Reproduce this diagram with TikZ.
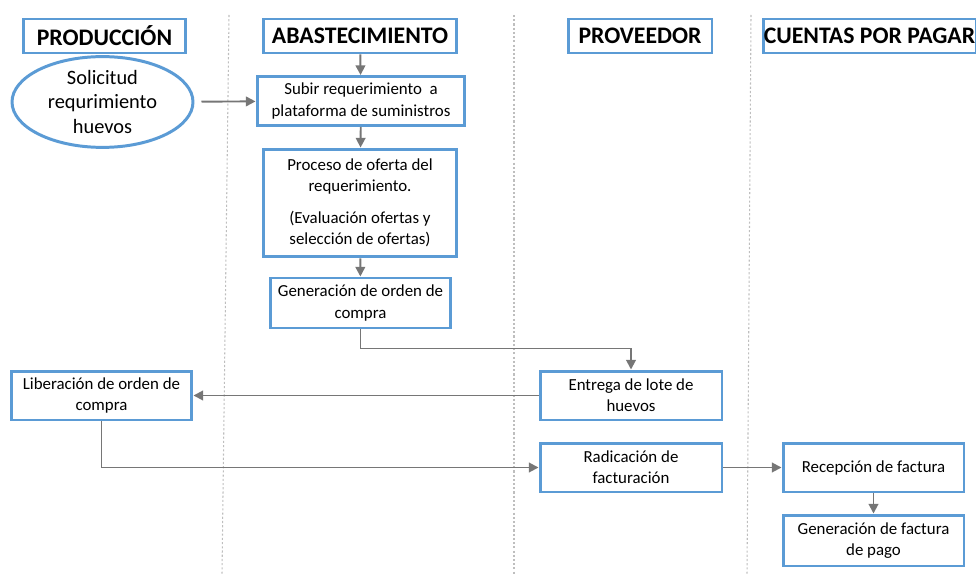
\documentclass[tikz,border=0pt]{standalone}
\usepackage{fontspec}
\setmainfont{Carlito}
\usetikzlibrary{positioning, arrows.meta, shapes.geometric}

\definecolor{boxblue}{RGB}{91,155,213}
\definecolor{flowgray}{RGB}{118,118,118}
\definecolor{lanegray}{RGB}{190,190,190}

\begin{document}
\begin{tikzpicture}[
    % Global Styles (1 unit = 1 px of the sheet)
    x=0.02cm, y=-0.02cm,
    font=\fontsize{9.6}{12}\selectfont,
    >={Triangle[length=5.5pt, width=5.5pt]},
    % Style for lane headings
    lane_head/.style={draw=boxblue, line width=1.7pt, inner sep=0pt,
        font=\fontsize{13.5}{16}\selectfont\bfseries, minimum height=0.68cm},
    % Style for process steps
    step_box/.style={draw=boxblue, line width=1.7pt, align=center, inner sep=2pt},
    start_oval/.style={ellipse, draw=boxblue, line width=1.7pt, align=center,
        inner sep=0pt, font=\fontsize{11.6}{14.2}\selectfont},
    % Style for connectors
    flow/.style={->, flowgray, line width=1.1pt},
    % Style for lane separators
    lane_sep/.style={lanegray, line width=0.6pt, dash pattern=on 1.2pt off 1.2pt}
]
\useasboundingbox (0,0) rectangle (976,574);

%% --- LANE SEPARATORS ---
\draw[lane_sep] (229,15) -- (222,574);
\draw[lane_sep] (514,15) -- (514,574);
\draw[lane_sep] (751,15) -- (747,574);

%% --- HEADINGS ---
\node[lane_head, minimum width=3.26cm] (hprod) at (104.5,36) {PRODUCCIÓN};
\node[lane_head, minimum width=3.88cm] (habas) at (360,36) {ABASTECIMIENTO};
\node[lane_head, minimum width=2.88cm] (hprov) at (640,36) {PROVEEDOR};
\node[lane_head, minimum width=4.26cm] (hcxp) at (869.5,36) {CUENTAS POR PAGAR};

%% --- PRODUCCIÓN ---
\node[start_oval, minimum width=3.62cm, minimum height=1.72cm] (sol) at (102.5,102)
    {Solicitud\\requrimiento\\huevos};
\node[step_box, minimum width=3.62cm, minimum height=0.98cm] (lib) at (101.5,395.5)
    {Liberación de orden de\\compra};

%% --- ABASTECIMIENTO ---
\node[step_box, minimum width=4.16cm, minimum height=0.98cm] (sub) at (361,101)
    {Subir requerimiento~ a\\plataforma de suministros};
\node[step_box, minimum width=3.88cm, minimum height=2.16cm] (proc) at (360,203)
    {Proceso de oferta del\\requerimiento.\\[6pt](Evaluación ofertas y\\selección de ofertas)};
\node[step_box, minimum width=3.62cm, minimum height=1.0cm] (gen) at (360.5,303)
    {Generación de orden de\\compra};

%% --- PROVEEDOR ---
\node[step_box, minimum width=3.64cm, minimum height=0.98cm] (ent) at (631,395.5)
    {Entrega de lote de\\huevos};
\node[step_box, minimum width=3.64cm, minimum height=0.98cm] (rad) at (631,467.5)
    {Radicación de\\facturación};

%% --- CUENTAS POR PAGAR ---
\node[step_box, minimum width=3.62cm, minimum height=0.98cm] (rec) at (873.5,467.5)
    {Recepción de factura};
\node[step_box, minimum width=3.62cm, minimum height=1.02cm] (fac) at (873.5,540.5)
    {Generación de factura\\de pago};

%% --- CONNECTORS ---
\draw[flow, shorten <=4pt] (sol) -- (sub);
\draw[flow] (habas) -- (sub);
\draw[flow] (sub) -- (proc);
\draw[flow] (proc) -- (gen);
\draw[flow] (gen.south) -- ++(0,19) -| (ent.north);
\draw[flow] (ent) -- (lib);
\draw[flow] (lib.south) |- (rad.west);
\draw[flow] (rad) -- (rec);
\draw[flow] (rec) -- (fac);

\end{tikzpicture}
\end{document}
